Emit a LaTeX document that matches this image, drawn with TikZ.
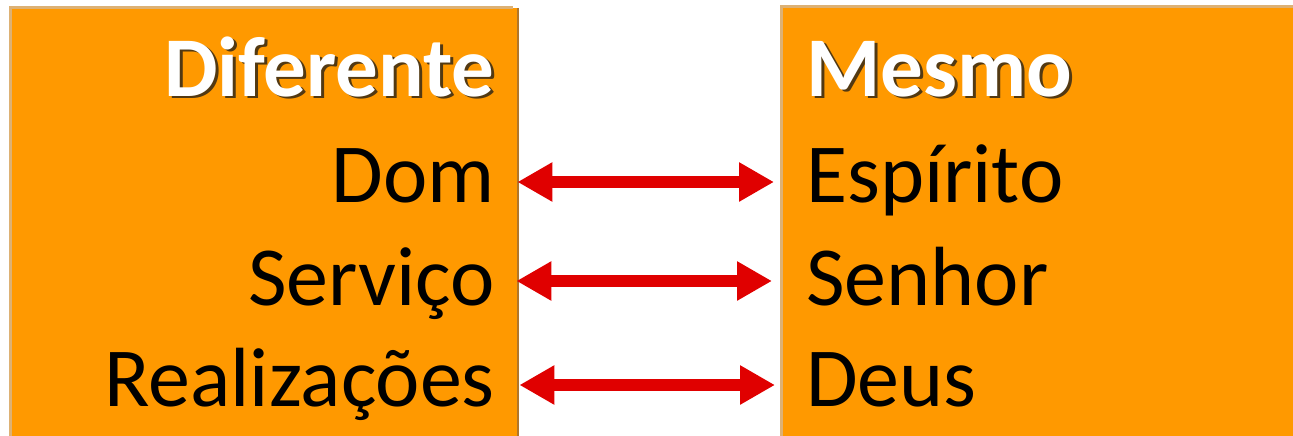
\documentclass[tikz,border=0pt]{standalone}
\usepackage{fontspec}
\setmainfont{Carlito}
\usetikzlibrary{positioning}
\usetikzlibrary{arrows.meta}
\definecolor{boxorange}{HTML}{FF9900}
\definecolor{boxrim}{HTML}{DDB174}
\definecolor{boxshade}{HTML}{B0762A}
\definecolor{arrowred}{HTML}{E00000}
\tikzset{
    block/.style = {fill=boxorange, rectangle, inner sep=0pt,
        minimum width=507pt,
        minimum height=440pt, anchor=north west},
    head/.style = {font=\fontsize{85}{85}\selectfont\bfseries, text=white, inner sep=0pt},
    headshadow/.style = {font=\fontsize{85}{85}\selectfont\bfseries, text=black!90, opacity=0.75, inner sep=0pt},
    item/.style = {font=\fontsize{84}{84}\selectfont, inner sep=0pt},
    arrow/.style = {draw=arrowred, line width=12pt,
        {Triangle[length=35pt,width=37pt]}-{Triangle[length=35pt,width=37pt]}}
}
\begin{document}
\begin{tikzpicture}[x=1pt, y=-1pt]
    \useasboundingbox (0,0) rectangle (1293,436);
    % boxes
    \node [block] (leftbox) at (10,8) {};
    \node [block, minimum width=520pt] (rightbox) at (781,7) {};
    \draw [boxrim, line width=3pt] (leftbox.south west) -- (leftbox.north west) -- ([xshift=-4pt]leftbox.north east);
    \draw [boxshade, line width=2pt] ([xshift=1pt]leftbox.north east) -- ([xshift=1pt]leftbox.south east);
    \draw [boxrim, line width=3pt] (rightbox.south west) -- (rightbox.north west) -- (rightbox.north east);
    % headings
    \node [headshadow, anchor=base east] at (498,99) {Diferente};
    \node [head, anchor=base east] (diferente) at (495,96) {Diferente};
    \node [headshadow, anchor=base west] at (809,99) {Mesmo};
    \node [head, anchor=base west] (mesmo) at (806,96) {Mesmo};
    % left column
    \node [item, below=106pt of diferente.base east, anchor=base east] (dom) {Dom};
    \node [item, below=103pt of dom.base east, anchor=base east] (servico) {Serviço};
    \node [item, below=101pt of servico.base east, anchor=base east] (realizacoes) {Realizações};
    % right column
    \node [item, below=106pt of mesmo.base west, anchor=base west] (espirito) {Espírito};
    \node [item, below=103pt of espirito.base west, anchor=base west] (senhor) {Senhor};
    \node [item, below=101pt of senhor.base west, anchor=base west] (deus) {Deus};
    % arrows
    \draw [arrow] ([yshift=20pt]dom.base -| leftbox.east) -- ([xshift=-7pt, yshift=20pt]espirito.base -| rightbox.west);
    \draw [arrow] ([xshift=-1pt, yshift=24pt]servico.base -| leftbox.east) -- ([xshift=-9pt, yshift=24pt]senhor.base -| rightbox.west);
    \draw [arrow] ([xshift=2pt, yshift=21pt]realizacoes.base -| leftbox.east) -- ([xshift=-6pt, yshift=21pt]deus.base -| rightbox.west);
\end{tikzpicture}
\end{document}
